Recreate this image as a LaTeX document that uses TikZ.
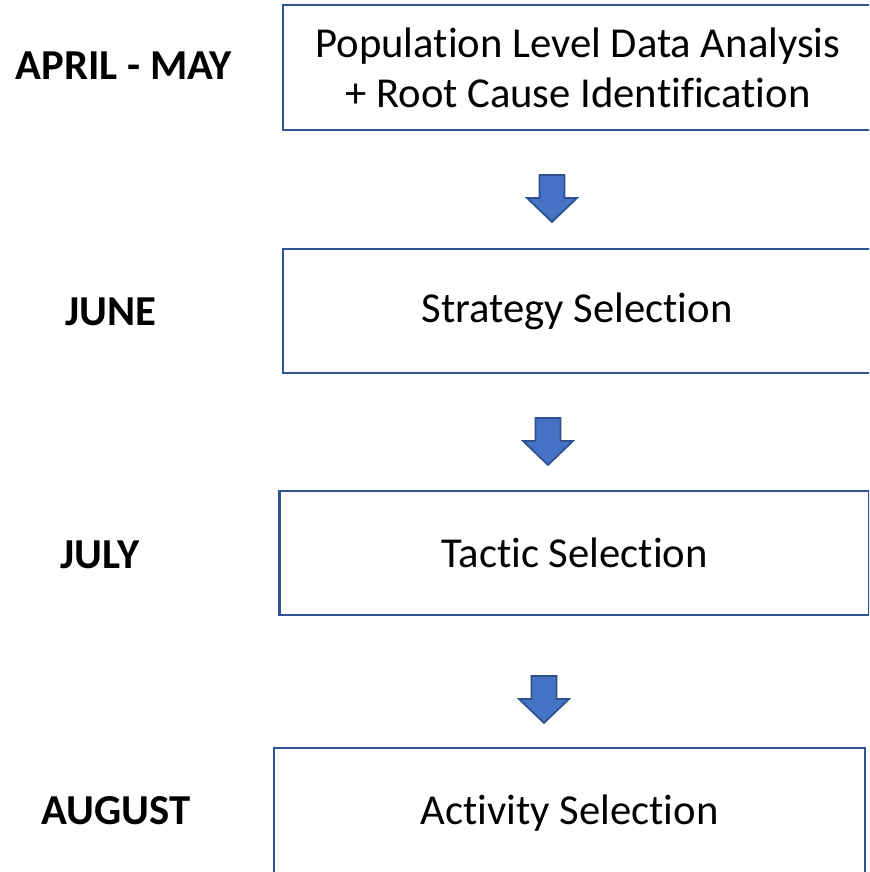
\documentclass[tikz,border=0pt]{standalone}
\usepackage{fontspec}
\setmainfont{Carlito}[Ligatures=NoCommon]
\definecolor{boxline}{RGB}{47,85,151}
\definecolor{arrowfill}{RGB}{68,114,196}
\definecolor{arrowline}{RGB}{47,82,143}
\begin{document}
\begin{tikzpicture}[x=0.75pt,y=-0.75pt,
  stage/.style={draw=boxline, line width=2pt, fill=white, rectangle,
    inner sep=0pt, align=center, font=\fontsize{32}{37.5}\selectfont},
  month/.style={font=\bfseries\fontsize{32}{36}\selectfont, inner sep=0pt},
  downarrow/.pic={
    \draw[fill=arrowfill, draw=arrowline, line width=1.3pt, line join=miter]
      (-12.5,0) -- (12.5,0) -- (12.5,23) -- (25,23) -- (0,47)
      -- (-25,23) -- (-12.5,23) -- cycle;
  }]
  \useasboundingbox (0,0) rectangle (869,872);
  \clip (0,0) rectangle (869,872);

  % process steps
  \node[stage, minimum width=442.5pt, minimum height=93.75pt] (analysis) at (578,67.5)
        {Population Level Data Analysis\\+ Root Cause Identification};
  \node[stage, minimum width=441pt, minimum height=93pt] (strategy) at (577,311)
        {Strategy Selection};
  \node[stage, minimum width=442.5pt, minimum height=93pt] (tactic) at (574.5,553)
        {Tactic Selection};
  \node[stage, minimum width=443.25pt, minimum height=97.5pt] (activity) at (569.5,813)
        {Activity Selection};

  % schedule labels
  \node[month] (m1) at (124,66) {APRIL - MAY};
  \node[month] (m2) at (111,312) {JUNE};
  \node[month] (m3) at (100,555) {JULY};
  \node[month] (m4) at (116,811) {AUGUST};

  % block arrows between steps
  \pic at (552,175) {downarrow};
  \pic at (548,418) {downarrow};
  \pic at (544,676) {downarrow};
\end{tikzpicture}
\end{document}
